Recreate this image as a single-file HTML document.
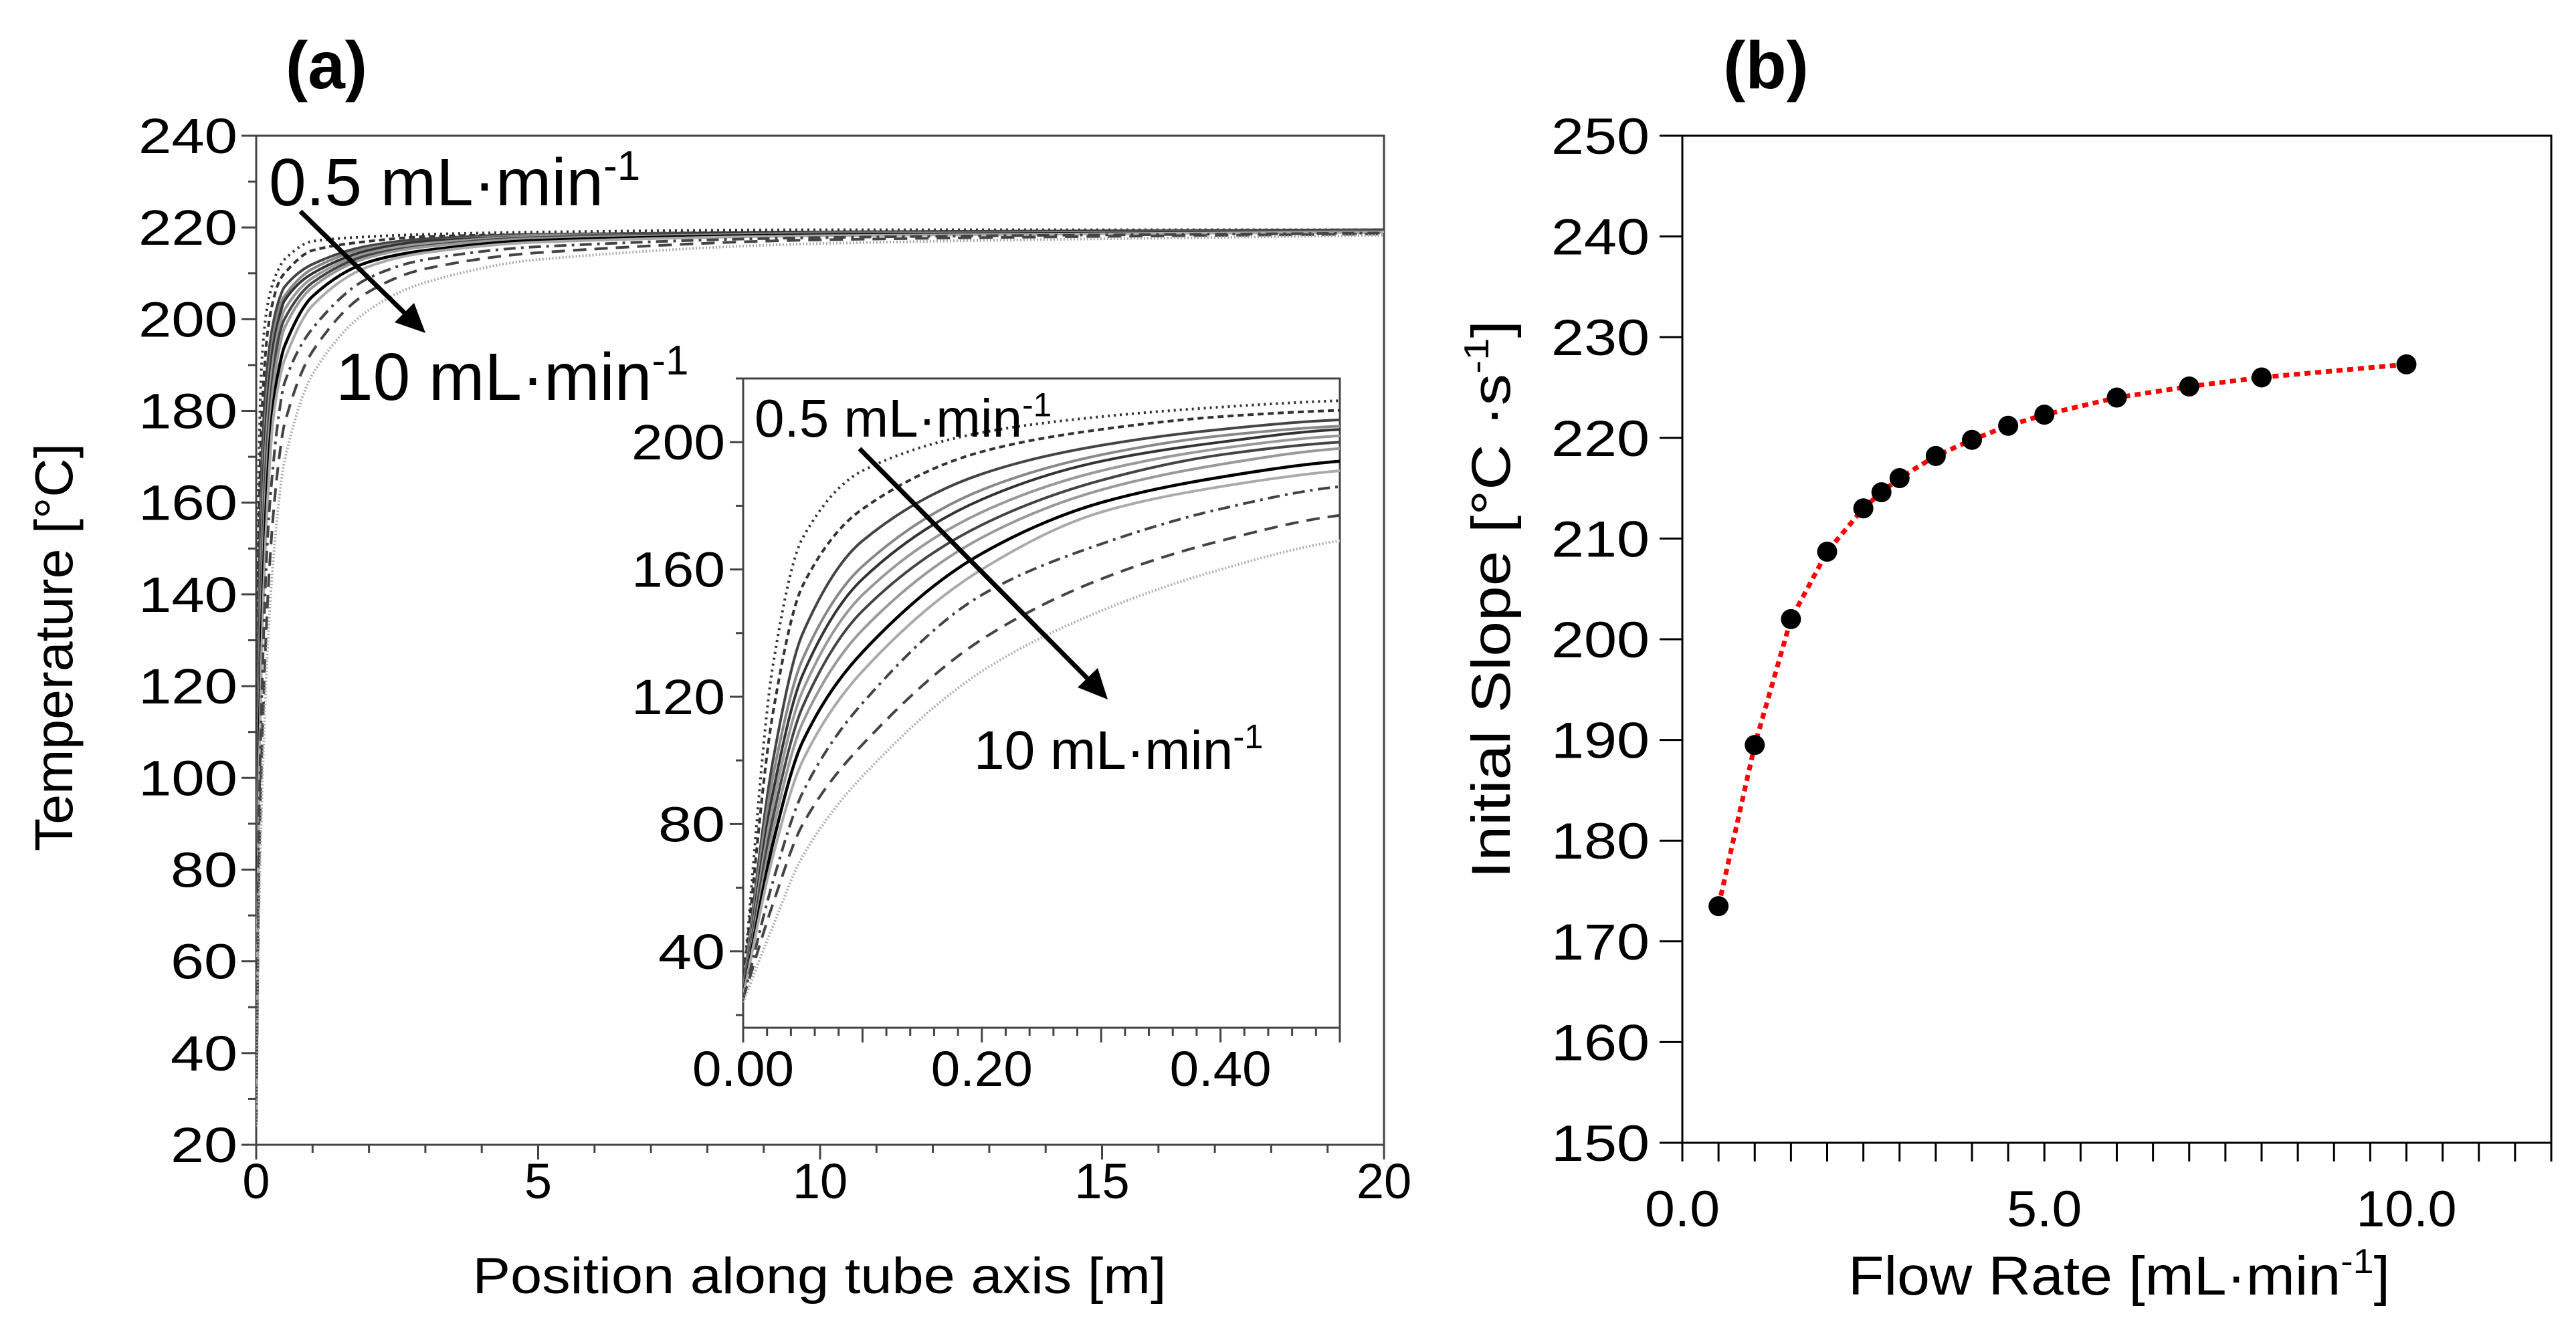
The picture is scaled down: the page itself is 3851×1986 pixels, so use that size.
<!DOCTYPE html>
<html><head><meta charset="utf-8"><style>
html,body{margin:0;padding:0;background:#fff;}
svg{display:block;font-family:"Liberation Sans",Arial,sans-serif;}
</style></head><body>
<svg id="fig" width="3851" height="1986" viewBox="0 0 3851 1986" xmlns="http://www.w3.org/2000/svg">
<defs>
<clipPath id="clipA"><rect x="383" y="203" width="1686" height="1509"/></clipPath>
<clipPath id="clipI"><rect x="1111" y="566" width="892" height="971"/></clipPath>
</defs>
<g id="gA"></g>
<g id="gB"></g>
</svg>
<script>
// ---- Panel (a) data ----
const posX = [0,0.025,0.05,0.1,0.2,0.3,0.4,0.5,1,2,3,5,10,20];
const curveNames = ['0.5','1','1.5','2','2.5','3','3.5','4','5','6','7','8','10'];
const c1  = [30,130,170,191,203,208,211,213,217,218,218.5,219,219.5,219.5];
const c2  = [30,115,155,179,197,204,208,210,215,217,218,218.5,219,219.5];
const c3  = [28,100,140,169,190,199,204,207,212,216,217.5,218.5,219,219.5];
const c4  = [28,95,132,161,185,196,202,205,211,215.5,217,218.3,219,219.3];
const c5  = [27,90,127,157,182,194,200,204,210,215,217,218,219,219.3];
const c6  = [27,86,122,152,178,191,198,202,209,214.5,216.5,218,218.8,219.2];
const c7  = [27,82,117,147,174,188,196,200,208,214,216,217.8,218.7,219.2];
const c8  = [26,78,112,141,170,185,193,198,207,213.5,215.8,217.6,218.6,219.1];
const c9  = [26,74,106,134,165,181,189,194,205,212.5,215,217.2,218.4,219];
const c10 = [26,70,100,128,160,178,186,191,203,211.5,214.5,216.8,218.2,219];
const c11 = [25,62,90,118,152,168,179,186,198,209,213,215.8,217.8,218.8];
const c12 = [25,55,80,105,138,157,169,177,193,206,211,214.5,217.3,218.6];
const c13 = [24,48,70,95,128,147,160,169,188,202,208,213,216.5,218.3];
const curves = [c1,c2,c3,c4,c5,c6,c7,c8,c9,c10,c11,c12,c13];
const aYTicks = [20,40,60,80,100,120,140,160,180,200,220,240];
const aXTicks = [0,5,10,15,20];
const insetYTicks = [40,80,120,160,200];
const insetXTicks = ['0.00','0.20','0.40'];
// ---- Panel (b) data ----
const flowRates = [0.5,1,1.5,2,2.5,2.75,3,3.5,4,4.5,5,6,7,8,10];
const slopes = [173.5,189.5,202,208.7,213,214.6,216,218.2,219.8,221.2,222.3,224,225.1,226,227.3];
const bYTicks = [150,160,170,180,190,200,210,220,230,240,250];
const bXTicks = ['0.0','5.0','10.0'];

const NS='http://www.w3.org/2000/svg';
function mk(parent,tag,attrs,text){const e=document.createElementNS(NS,tag);for(const k in attrs)e.setAttribute(k,attrs[k]);if(text!==undefined)e.textContent=text;parent.appendChild(e);return e;}
// monotone cubic path through screen points
function monoPath(px,py){
 const n=px.length,d=[],m=[];
 for(let i=0;i<n-1;i++)d.push((py[i+1]-py[i])/(px[i+1]-px[i]));
 m[0]=d[0];m[n-1]=d[n-2];
 for(let i=1;i<n-1;i++){m[i]=(d[i-1]*d[i]<=0)?0:2/(1/d[i-1]+1/d[i]);}
 let s='M'+px[0].toFixed(1)+','+py[0].toFixed(1);
 for(let i=0;i<n-1;i++){const h=(px[i+1]-px[i])/3;
  s+=' C'+(px[i]+h).toFixed(1)+','+(py[i]+m[i]*h).toFixed(1)+' '+(px[i+1]-h).toFixed(1)+','+(py[i+1]-m[i+1]*h).toFixed(1)+' '+px[i+1].toFixed(1)+','+py[i+1].toFixed(1);}
 return s;}

const styles=[
 {s:'#333',d:'3 6',w:4},{s:'#333',d:'9 6',w:4},{s:'#444',d:'',w:4},{s:'#888',d:'',w:4},
 {s:'#333',d:'',w:4},{s:'#999',d:'',w:4},{s:'#444',d:'',w:4},{s:'#999',d:'',w:4},
 {s:'#000',d:'',w:4.5},{s:'#aaa',d:'',w:4},{s:'#444',d:'18 8 4 8',w:4},{s:'#444',d:'20 12',w:4},{s:'#aaa',d:'2 3',w:4}];

const gA=document.getElementById('gA');
const ax={x0:383,x1:2069,y0:1712,y1:203};
const xA=v=>ax.x0+(v-0)/20*(ax.x1-ax.x0);
const yA=v=>ax.y0-(v-20)/220*(ax.y0-ax.y1);
let e=mk(gA,'rect',{x:ax.x0,y:ax.y1,width:ax.x1-ax.x0,height:ax.y0-ax.y1,fill:'none',stroke:'#444','stroke-width':3});

const curveG=mk(gA,'g',{'clip-path':'url(#clipA)'});

curves.forEach((c,i)=>{
 const st=styles[i];
 const p=mk(curveG,'path',{d:monoPath(posX.map(xA),c.map(yA)),fill:'none',stroke:st.s,'stroke-width':st.w,'stroke-dasharray':st.d});
 
 
});
for(let v=20;v<=240;v+=10){mk(gA,'line',{x1:ax.x0,x2:ax.x0-(v%20===0?22:12),y1:yA(v),y2:yA(v),stroke:'#444','stroke-width':3});}
for(let v=0;v<=20;v+=1){mk(gA,'line',{x1:xA(v),x2:xA(v),y1:ax.y0,y2:ax.y0+(v%5===0?22:12),stroke:'#444','stroke-width':3});}
aYTicks.forEach(v=>{const t=mk(gA,'text',{x:355,y:yA(v)+26,'text-anchor':'end','font-size':74,textLength:v<100?100:148,lengthAdjust:'spacingAndGlyphs'},String(v));
 });
aXTicks.forEach(v=>{const t=mk(gA,'text',{x:xA(v),y:1792,'text-anchor':'middle','font-size':74},String(v));
 });
e=mk(gA,'text',{x:1225,y:1934,'text-anchor':'middle','font-size':76,textLength:1037,lengthAdjust:'spacingAndGlyphs'},'Position along tube axis  [m]');

e=mk(gA,'text',{x:0,y:0,'text-anchor':'middle','font-size':80,transform:'translate(108,968) rotate(-90)',textLength:610,lengthAdjust:'spacingAndGlyphs'},'Temperature  [°C]');

e=mk(gA,'text',{x:488,y:132,'text-anchor':'middle','font-size':100,'font-weight':'bold'},'(a)');

function annot(g,x,y,fs,base,name){const t=mk(g,'text',{x:x,y:y,'font-size':fs});
 
 mk(t,'tspan',{},base);mk(t,'tspan',{dy:-fs*0.38,'font-size':fs*0.62},'-1');return t;}
annot(gA,402,307,100,'0.5 mL·min','annotation-low-flow');
annot(gA,502,598,100,'10 mL·min','annotation-high-flow');
mk(gA,'line',{x1:449,y1:316,x2:615,y2:478,stroke:'#000','stroke-width':7});
mk(gA,'polygon',{points:'636,498 590,482 619,453',fill:'#000'});

// inset
const ins={x0:1111,x1:2003,y0:1537,y1:566};
const xI=v=>ins.x0+v/0.5*(ins.x1-ins.x0);
const yI=v=>ins.y0-(v-16)/204*(ins.y0-ins.y1);
e=mk(gA,'rect',{x:ins.x0,y:ins.y1,width:ins.x1-ins.x0,height:ins.y0-ins.y1,fill:'#fff',stroke:'#444','stroke-width':3});

const insG=mk(gA,'g',{'clip-path':'url(#clipI)'});

curves.forEach((c,i)=>{
 const st=styles[i];
 const p=mk(insG,'path',{d:monoPath(posX.map(xI),c.map(yI)),fill:'none',stroke:st.s,'stroke-width':st.w,'stroke-dasharray':st.d});
 
 
});
for(let v=20;v<=220;v+=20){mk(gA,'line',{x1:ins.x0,x2:ins.x0-(v%40===0?20:11),y1:yI(v),y2:yI(v),stroke:'#444','stroke-width':3});}
for(let k=0;k<=25;k++){const v=k*0.02;mk(gA,'line',{x1:xI(v),x2:xI(v),y1:ins.y0,y2:ins.y0+(k%5===0?22:12),stroke:'#444','stroke-width':3});}
insetYTicks.forEach(v=>{const t=mk(gA,'text',{x:1084,y:yI(v)+26,'text-anchor':'end','font-size':74,textLength:v<100?100:140,lengthAdjust:'spacingAndGlyphs'},String(v));
 });
insetXTicks.forEach(s=>{const t=mk(gA,'text',{x:xI(parseFloat(s)),y:1624,'text-anchor':'middle','font-size':74,textLength:152,lengthAdjust:'spacingAndGlyphs'},s);
 });
annot(gA,1128,653,80,'0.5 mL·min','inset-annotation-low-flow');
annot(gA,1456,1150,82,'10 mL·min','inset-annotation-high-flow');
mk(gA,'line',{x1:1285,y1:671,x2:1638,y2:1027,stroke:'#000','stroke-width':7});
mk(gA,'polygon',{points:'1656,1046 1611,1028 1641,999',fill:'#000'});

// ---- Panel b ----
const gB=document.getElementById('gB');
const bx={x0:2515,x1:3814,y0:1709,y1:203};
const xB=v=>bx.x0+v/12*(bx.x1-bx.x0);
const yB=v=>bx.y0-(v-150)/100*(bx.y0-bx.y1);
e=mk(gB,'rect',{x:bx.x0,y:bx.y1,width:bx.x1-bx.x0,height:bx.y0-bx.y1,fill:'none',stroke:'#000','stroke-width':3});

bYTicks.forEach(v=>{mk(gB,'line',{x1:bx.x0,x2:bx.x0-34,y1:yB(v),y2:yB(v),stroke:'#000','stroke-width':3});
 const t=mk(gB,'text',{x:2466,y:yB(v)+27,'text-anchor':'end','font-size':76,textLength:147,lengthAdjust:'spacingAndGlyphs'},String(v));
 });
for(let k=0;k<=24;k++){const v=k*0.5;mk(gB,'line',{x1:xB(v),x2:xB(v),y1:bx.y0,y2:bx.y0+28,stroke:'#000','stroke-width':3});}
bXTicks.forEach(s=>{const t=mk(gB,'text',{x:xB(parseFloat(s)),y:1834,'text-anchor':'middle','font-size':76,textLength:s.length>3?150:112,lengthAdjust:'spacingAndGlyphs'},s);
 });
e=mk(gB,'polyline',{points:flowRates.map((f,i)=>xB(f).toFixed(1)+','+yB(slopes[i]).toFixed(1)).join(' '),fill:'none',stroke:'#f00','stroke-width':7,'stroke-dasharray':'9 7'});

flowRates.forEach((f,i)=>{const c=mk(gB,'circle',{cx:xB(f),cy:yB(slopes[i]),r:15,fill:'#000'});
 });
e=mk(gB,'text',{x:2763,y:1936,'font-size':82,textLength:810,lengthAdjust:'spacingAndGlyphs'});

mk(e,'tspan',{},'Flow Rate  [mL·min');mk(e,'tspan',{dy:-32,'font-size':52},'-1');mk(e,'tspan',{dy:32},']');
e=mk(gB,'text',{x:0,y:0,'font-size':82,transform:'translate(2257,1314) rotate(-90)',textLength:835,lengthAdjust:'spacingAndGlyphs'});

mk(e,'tspan',{},'Initial Slope  [°C ·s');mk(e,'tspan',{dy:-32,'font-size':52},'-1');mk(e,'tspan',{dy:32},']');
e=mk(gB,'text',{x:2640,y:132,'text-anchor':'middle','font-size':100,'font-weight':'bold'},'(b)');

</script>
</body></html>
